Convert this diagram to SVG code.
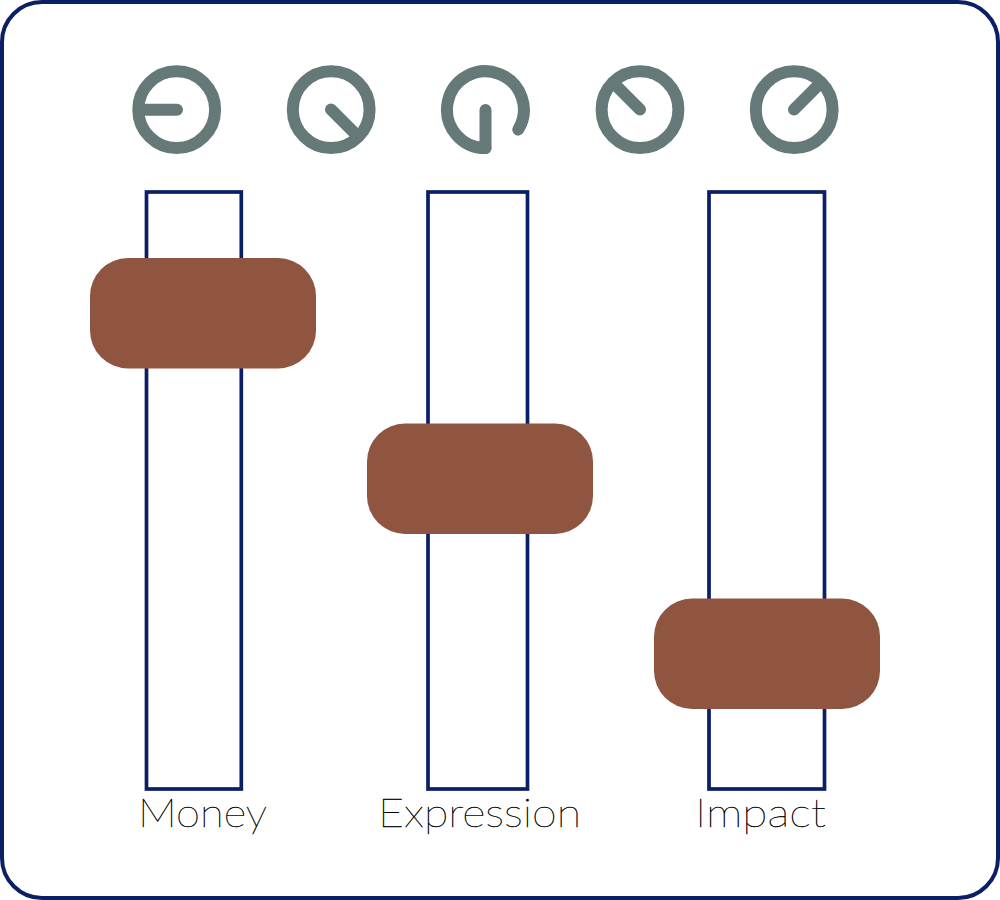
<svg xmlns="http://www.w3.org/2000/svg" width="1000" height="900" viewBox="0 0 1000 900">
<style>
.frame{fill:#fff;stroke:#0b1f66;stroke-width:4}
.track{fill:#fff;stroke:#0b1f66;stroke-width:3.7}
.handle{fill:#8f5540}
.dial{fill:none;stroke:#647978;stroke-width:12;stroke-linecap:round}
.label{font-family:"Lato","Liberation Sans",sans-serif;font-weight:100;font-size:40px;fill:#000;stroke:#000;stroke-width:.4;opacity:.99}
</style>
<rect width="1000" height="900" fill="#fff"/>
<rect id="frame" class="frame" x="2" y="2" width="996" height="896" rx="40" ry="40"/>
<g id="dial-1"><circle class="dial" cx="176.7" cy="109.7" r="38.4"/><path class="dial" d="M140 109.7H177"/></g>
<g id="dial-2"><circle class="dial" cx="331.2" cy="109.7" r="38.4"/><path class="dial" d="M331 109.5L358 136.5"/></g>
<g id="dial-3"><path class="dial" d="M518.3 129.5A38.4 38.4 0 1 0 485.5 148.1"/><path class="dial" d="M485.5 110V148"/></g>
<g id="dial-4"><circle class="dial" cx="640" cy="109.7" r="38.4"/><path class="dial" d="M640 109.5L613 82.5"/></g>
<g id="dial-5"><circle class="dial" cx="794.2" cy="109.7" r="38.4"/><path class="dial" d="M794 109.5L821 82.5"/></g>
<g id="slider-money"><rect class="track" x="146.500" y="192" width="94.800" height="597"/><rect class="handle" x="90" y="258" width="226" height="110.500" rx="38" ry="38"/><text class="label" x="138" y="827" textLength="129" lengthAdjust="spacingAndGlyphs">Money</text></g>
<g id="slider-expression"><rect class="track" x="428" y="192" width="99.500" height="597"/><rect class="handle" x="367" y="423.500" width="226" height="110.500" rx="38" ry="38"/><text class="label" x="378" y="827" textLength="203" lengthAdjust="spacingAndGlyphs">Expression</text></g>
<g id="slider-impact"><rect class="track" x="709" y="192" width="115.500" height="597"/><rect class="handle" x="654" y="598.500" width="226" height="110.500" rx="38" ry="38"/><text class="label" x="695" y="827" textLength="131" lengthAdjust="spacingAndGlyphs">Impact</text></g>
<g id="connectors"></g>
</svg>
